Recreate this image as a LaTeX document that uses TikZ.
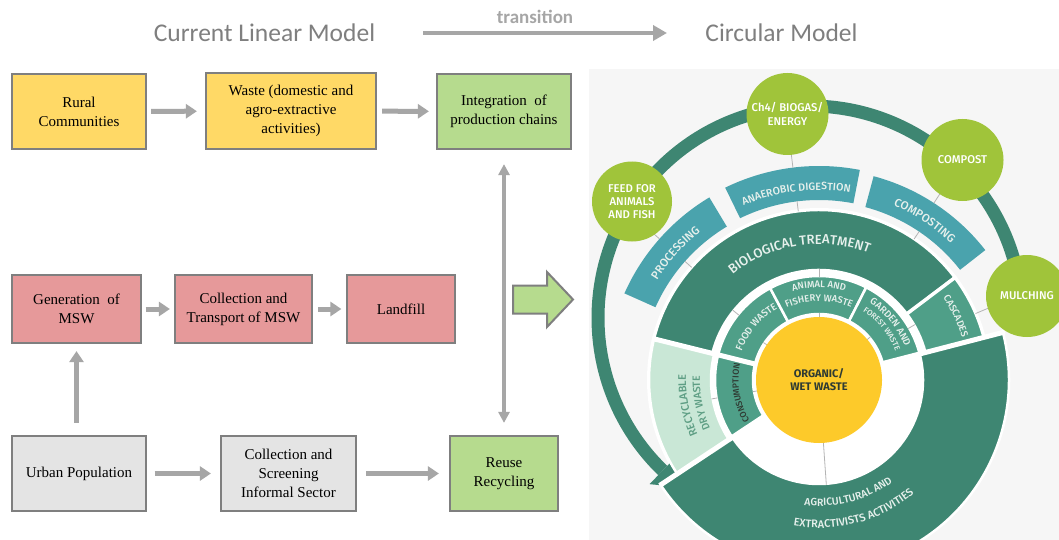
\documentclass[tikz,border=0pt]{standalone}
\usepackage{fontspec}
\setmainfont{Liberation Serif}
\newfontfamily\calib{Carlito}
\newfontfamily\fira{Fira Sans}[UprightFont={* Medium}, BoldFont={* Bold}]
\usetikzlibrary{arrows.meta,decorations.text}

\definecolor{boxyellow}{HTML}{FFD966}
\definecolor{boxred}{HTML}{E6999A}
\definecolor{boxgray}{HTML}{E4E4E4}
\definecolor{boxgreen}{HTML}{B6DB8E}
\definecolor{boxborder}{HTML}{7F7F7F}
\definecolor{arrowgray}{HTML}{A6A6A6}
\definecolor{titlegray}{HTML}{7F7F7F}
\definecolor{panelbg}{HTML}{F6F6F6}
\definecolor{dkgreen}{HTML}{3E8672}
\definecolor{segteal}{HTML}{4AA3AD}
\definecolor{midgreen}{HTML}{4F9F88}
\definecolor{ltgreen}{HTML}{C9E7D6}
\definecolor{limegreen}{HTML}{A0C43A}
\definecolor{sunyellow}{HTML}{FDCA2A}
\definecolor{tickgray}{HTML}{B4B4B4}
\definecolor{txtlight}{HTML}{E6F0EC}
\definecolor{recytxt}{HTML}{5E9E84}
\definecolor{darktxt}{HTML}{2F3B33}

\tikzset{
  lbox/.style={draw=boxborder, line width=2.2pt, align=center, inner sep=0pt,
    font=\fontsize{15}{19}\selectfont, text=black},
  garrow/.style={draw=arrowgray, line width=5pt, -{Triangle[length=11pt,width=14pt]}},
  dblarrow/.style={draw=arrowgray, line width=3.5pt,
    {Triangle[length=11pt,width=11pt]}-{Triangle[length=11pt,width=11pt]}},
  tarrow/.style={draw=arrowgray, line width=4.5pt, -{Triangle[length=14pt,width=15pt]}},
  titletext/.style={text=titlegray, inner sep=0pt, font=\calib\fontsize{25.5}{28}\selectfont},
  gcirc/.style={circle, fill=limegreen, text=white, align=center, inner sep=0pt,
    font=\fira\fontsize{11.3}{13.3}\selectfont, minimum size=#1},
  tickline/.style={draw=tickgray, line width=0.8pt},
}

% annular sector with white outline: inner r, outer r, start, end, colour
\newcommand{\segw}[5]{\filldraw[fill=#5, draw=white, line width=2.5pt]
  (#3:#2) arc[start angle=#3,end angle=#4,radius=#2] -- (#4:#1)
  arc[start angle=#4,end angle=#3,radius=#1] -- cycle;}
% annular sector, fill only
\newcommand{\segf}[5]{\fill[#5]
  (#3:#2) arc[start angle=#3,end angle=#4,radius=#2] -- (#4:#1)
  arc[start angle=#4,end angle=#3,radius=#1] -- cycle;}
% radial tick: angle, r1, r2
\newcommand{\tk}[3]{\draw[tickline] (#1:#2) -- (#1:#3);}
% white spoke: angle, r1, r2, width
\newcommand{\spoke}[4]{\draw[white, line width=#4pt] (#1:#2) -- (#1:#3);}
% text along arc: radius, start, end, size, colour, text
\newcommand{\arcT}[6]{\path[decorate, decoration={text along path, text align=center,
  text color=#5, text={|\fira\fontsize{#4}{#4}\selectfont|#6}}]
  (#2:#1) arc[start angle=#2,end angle=#3,radius=#1];}

\begin{document}
\begin{tikzpicture}[x=1pt,y=1pt]
\useasboundingbox (0,0) rectangle (1059,-540);
\fill[white] (0,0) rectangle (1059,-540);

% ---------- titles ----------
\node[titletext] (tlin) at (264.5,-33) {Current Linear Model};
\node[titletext] (tcirc) at (781.5,-33) {Circular Model};
\node[text=arrowgray, inner sep=0pt, font=\calib\bfseries\fontsize{19}{21}\selectfont] (ttrans) at (535,-17) {transition};
\coordinate (ta) at (423,-33);
\coordinate (tb) at (667,-33);
\draw[tarrow] (ta) -- (tb);

% ---------- linear model boxes ----------
\node[lbox, fill=boxyellow, minimum width=134pt, minimum height=75pt] (rural) at (79,-111.5) {Rural\\Communities};
\node[lbox, fill=boxyellow, minimum width=170pt, minimum height=76pt] (waste) at (291,-111) {Waste (domestic and\\agro-extractive\\activities)};
\node[lbox, fill=boxgreen, minimum width=134pt, minimum height=75pt] (integ) at (504,-111.5) {Integration\ \ of\\production chains};
\node[lbox, fill=boxred, minimum width=129pt, minimum height=68pt] (gen) at (76.5,-309) {Generation\ \ of\\MSW};
\node[lbox, fill=boxred, minimum width=137pt, minimum height=68pt] (coll) at (243.5,-309) {Collection and\\Transport of MSW};
\node[lbox, fill=boxred, minimum width=108pt, minimum height=68pt] (landfill) at (401,-309) {Landfill};
\node[lbox, fill=boxgray, minimum width=134pt, minimum height=75pt] (urban) at (79,-473.5) {Urban Population};
\node[lbox, fill=boxgray, minimum width=135pt, minimum height=75pt] (screen) at (288.5,-473.5) {Collection and\\Screening\\Informal Sector};
\node[lbox, fill=boxgreen, minimum width=108pt, minimum height=75pt] (reuse) at (504,-473.5) {Reuse\\Recycling};

% ---------- linear model arrows ----------
\draw[garrow, shorten <=4pt, shorten >=8pt] (rural) -- (waste);
\draw[garrow, shorten <=5pt, shorten >=7pt] (waste) -- (integ);
\draw[garrow, shorten <=3.5pt, shorten >=4pt] (gen) -- (coll);
\draw[garrow, shorten <=5pt, shorten >=4.5pt] (coll) -- (landfill);
\draw[garrow, shorten <=12pt, shorten >=7pt] (urban.north -| gen.south) -- (gen.south);
\draw[garrow, shorten <=7.5pt, shorten >=9pt] (urban) -- (screen);
\draw[garrow, shorten <=9pt, shorten >=10pt] (screen) -- (reuse);
\draw[dblarrow, shorten <=14pt, shorten >=12pt] (integ.south) -- (reuse.north);

% big block arrow
\draw[fill=boxgreen, draw=boxborder, line width=2pt, line join=miter]
  (513,-285.5) -- (547,-285.5) -- (547,-272) -- (573,-299.5) -- (547,-327)
  -- (547,-313.5) -- (513,-313.5) -- cycle;

% ---------- circular model ----------
\fill[panelbg] (589,-69) rectangle (1059,-540);
\begin{scope}[shift={(819,-380)}]
  \fill[white] (0,0) circle[radius=172];
\end{scope}

% outer arrow ring
\begin{scope}[shift={(810,-318)}]
  \draw[dkgreen, line width=13pt] (3:212) arc[start angle=3,end angle=226,radius=212];
  \fill[dkgreen] (226:231) -- (233:212) -- (226:193) -- cycle;
\end{scope}

\begin{scope}[shift={(819,-380)}]
  % agricultural ring
  \segw{104}{190}{213.5}{374.5}{dkgreen}
  % recyclable
  \segw{108}{170}{166}{213.5}{ltgreen}
  % biological treatment
  \segw{110}{170}{37}{166}{dkgreen}
  % cascades
  \segw{110}{170}{14.5}{37}{midgreen}
  % inner segments
  \segw{66}{104}{166}{213.5}{midgreen}
  \segw{66}{104}{118}{166}{midgreen}
  \segw{66}{104}{63}{118}{midgreen}
  \segw{66}{104}{14.5}{63}{midgreen}
  % spokes
  \spoke{166}{60}{172}{5}
  \spoke{213.5}{60}{191}{5}
  \spoke{14.5}{60}{192}{5}
  \spoke{37}{106}{172}{3.5}
  % middle ring
  \segf{179}{213}{121}{156}{segteal}
  \segf{180}{214}{79}{116}{segteal}
  \segf{179}{211}{38}{75}{segteal}
  % ticks
  \tk{138.5}{213}{220}
  \tk{138.5}{170}{179}
  \tk{97}{214}{229}
  \tk{97}{170}{180}
  \tk{57}{211}{223}
  \tk{56}{170}{179}
  \tk{23}{170}{186}
  \tk{90}{103}{111}
  \tk{141}{103}{111}
  \tk{30}{103}{111}
  \tk{90}{62}{67}
  \tk{146}{62}{67}
  \tk{40}{62}{67}
  \tk{190}{62}{67}
  \tk{190}{103}{109}
  \tk{-86}{62}{105}
  % centre
  \node[circle, fill=sunyellow, minimum size=126pt, inner sep=0pt, align=center,
    text=darktxt, font=\fira\bfseries\fontsize{11}{13}\selectfont] (organic) at (0,0) {ORGANIC/\\WET WASTE};
  % curved labels
  \arcT{190}{168.5}{108.5}{11.5}{txtlight}{PROCESSING}
  \arcT{190}{137}{57}{10.6}{txtlight}{ANAEROBIC DIGESTION}
  \arcT{190}{86.5}{26.5}{11.5}{txtlight}{COMPOSTING}
  \arcT{136}{149}{49}{13.2}{txtlight}{BIOLOGICAL TREATMENT}
  \arcT{82.5}{180}{100}{9.8}{txtlight}{FOOD WASTE}
  \arcT{92.5}{130}{50}{9.5}{txtlight}{ANIMAL AND}
  \arcT{79}{130}{50}{9.5}{txtlight}{FISHERY WASTE}
  \arcT{92}{79}{-1}{9.8}{txtlight}{GARDEN AND}
  \arcT{81.5}{79}{-1}{7.8}{txtlight}{FOREST WASTE}
  \arcT{149}{55}{-5}{9.8}{txtlight}{CASCADES}
  \arcT{80.5}{229.5}{149.5}{8.8}{darktxt}{CONSUMPTION}
  \arcT{133}{231}{151}{11}{recytxt}{RECYCLABLE}
  \arcT{119}{231}{151}{10.5}{recytxt}{DRY WASTE}
  \arcT{126}{-125.5}{-25.5}{10.5}{txtlight}{AGRICULTURAL AND}
  \arcT{148}{-125}{-25}{11}{txtlight}{EXTRACTIVISTS ACTIVITIES}
\end{scope}

% green circles
\node[gcirc=80pt] (feed) at (632,-201.5) {FEED FOR\\ANIMALS\\AND FISH};
\node[gcirc=82pt] (ch4) at (787.5,-114) {Ch4/ BIOGAS/\\ENERGY};
\node[gcirc=82pt] (compost) at (962.5,-160) {COMPOST};
\node[gcirc=82pt] (mulch) at (1027,-296) {MULCHING};
\end{tikzpicture}
\end{document}
